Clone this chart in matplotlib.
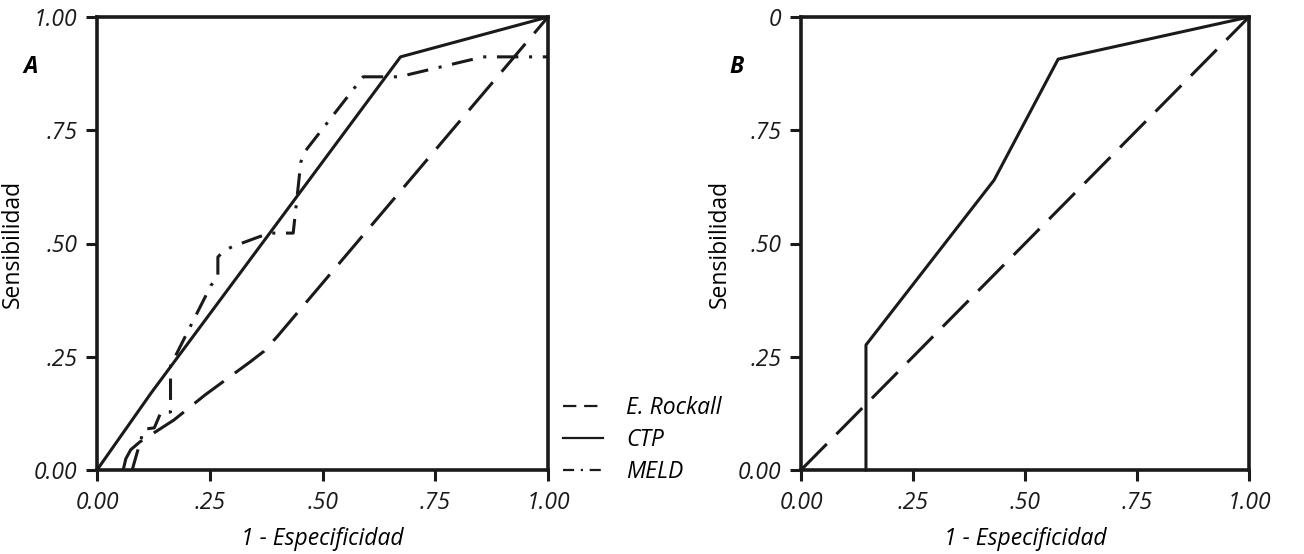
import matplotlib
matplotlib.use("Agg")
import matplotlib.pyplot as plt
from matplotlib.lines import Line2D

plt.rcParams['font.family'] = ['Open Sans', 'DejaVu Sans']

# Panel A: ROC curves (1 - specificity, sensitivity)
rockall_x = [0.058, 0.064, 0.075, 0.095, 0.17, 0.24, 0.34, 0.37, 0.40, 1.0]
rockall_y = [0.0, 0.025, 0.045, 0.062, 0.11, 0.166, 0.239, 0.262, 0.295, 1.0]

ctp_x = [0.0, 0.12, 0.673, 1.0]
ctp_y = [0.0, 0.17, 0.912, 1.0]

meld_x = [0.078, 0.088, 0.104, 0.127, 0.142, 0.163, 0.163, 0.253, 0.268, 0.268,
          0.28, 0.30, 0.36, 0.385, 0.435, 0.452, 0.461, 0.59, 0.67, 0.856, 1.0]
meld_y = [0.0, 0.035, 0.09, 0.093, 0.128, 0.128, 0.23, 0.408, 0.425, 0.47,
          0.483, 0.493, 0.515, 0.523, 0.523, 0.68, 0.703, 0.868, 0.868, 0.912, 0.912]

# Panel B
b_ctp_x = [0.145, 0.145, 0.431, 0.574, 1.0]
b_ctp_y = [0.0, 0.276, 0.64, 0.907, 1.0]
b_ref_x = [0.0, 1.0]
b_ref_y = [0.0, 1.0]

ticks = [0.0, 0.25, 0.5, 0.75, 1.0]
tick_labels = ['0.00', '.25', '.50', '.75', '1.00']
b_ytick_labels = ['0.00', '.25', '.50', '.75', '0']

W, H = 1304, 554
fig = plt.figure(figsize=(W / 100, H / 100), dpi=100)

ink = '#1a1a1a'
lw = 2.2
dash_long = (12, 4.5)
dash_dot = (7, 3.5, 1, 3.5)
fs = 16.5


def setup(ax, ylabels):
    ax.set_xlim(0, 1)
    ax.set_ylim(0, 1)
    ax.set_xticks(ticks)
    ax.set_yticks(ticks)
    ax.set_xticklabels(tick_labels, style='italic', fontsize=fs)
    ax.set_yticklabels(ylabels, style='italic', fontsize=fs)
    ax.tick_params(direction='out', length=8, width=2.2, colors=ink)
    ax.tick_params(axis='y', pad=6)
    ax.tick_params(axis='x', pad=7)
    for s in ax.spines.values():
        s.set_linewidth(2.6)
        s.set_color(ink)
    ax.set_xlabel('1 - Especificidad', style='italic', fontsize=fs)
    ax.set_ylabel('Sensibilidad', fontsize=fs)
    ax.xaxis.set_label_coords(0.5, -0.125)


axA = fig.add_axes([97 / W, 84 / H, 451 / W, 453 / H])
axA.plot(rockall_x, rockall_y, color=ink, lw=lw, dashes=dash_long, clip_on=False)
axA.plot(ctp_x, ctp_y, color=ink, lw=lw, clip_on=False)
axA.plot(meld_x, meld_y, color=ink, lw=lw, dashes=dash_dot, clip_on=False)
setup(axA, tick_labels)
axA.yaxis.set_label_coords(-0.16, 0.5)
fig.text(31 / W, 1 - 67 / H, 'A', fontsize=fs, fontweight='bold', style='italic',
         ha='center', va='center')

handles = [
    Line2D([], [], color=ink, lw=1.6, dashes=(6, 3.5)),
    Line2D([], [], color=ink, lw=1.6),
    Line2D([], [], color=ink, lw=1.6, dashes=(5, 3, 1, 3)),
]
fig.legend(handles, ['E. Rockall', 'CTP', 'MELD'], loc='center left',
           bbox_to_anchor=(563 / W, 1 - 440 / H), frameon=False,
           prop={'style': 'italic', 'size': fs}, handlelength=1.75,
           handletextpad=1.0, labelspacing=0.33, borderaxespad=0, borderpad=0)

axB = fig.add_axes([801 / W, 84 / H, 448 / W, 453 / H])
axB.plot(b_ref_x, b_ref_y, color=ink, lw=lw, dashes=dash_long, clip_on=False)
axB.plot(b_ctp_x, b_ctp_y, color=ink, lw=lw, clip_on=False)
setup(axB, b_ytick_labels)
axB.yaxis.set_label_coords(-0.155, 0.5)
fig.text(736 / W, 1 - 67 / H, 'B', fontsize=fs, fontweight='bold', style='italic',
         ha='center', va='center')

fig.savefig('out.png', dpi=100)
